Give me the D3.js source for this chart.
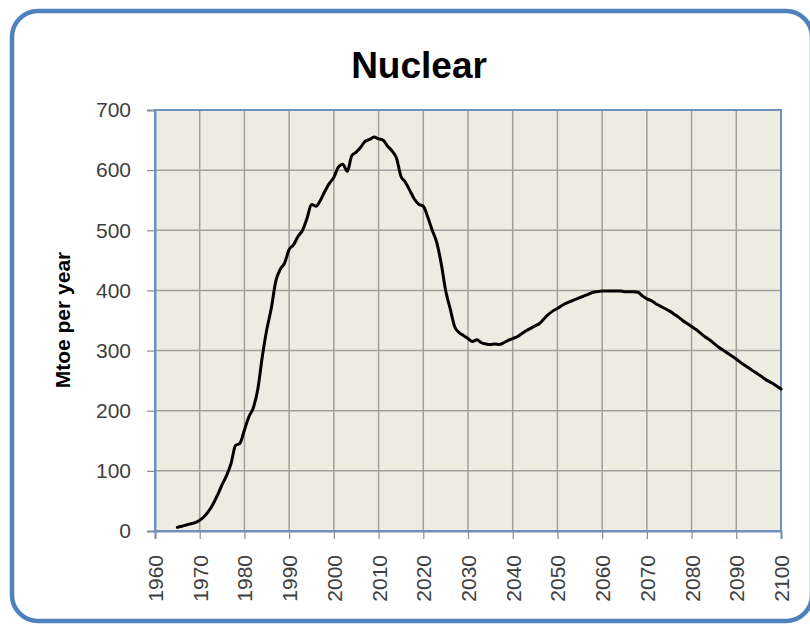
<!DOCTYPE html>
<html>
<head>
<meta charset="utf-8">
<script src="https://cdn.jsdelivr.net/npm/d3@7/dist/d3.min.js"></script>
<style>
  html, body { margin: 0; padding: 0; background: #ffffff; }
  svg { display: block; }
</style>
</head>
<body>
<svg id="chart" width="810" height="625"></svg>
<script>
// ---- data ----
const title = "Nuclear";
const yAxisTitle = "Mtoe per year";
const years = d3.range(1965, 2101);
const nuclear = [
  6, 8, 10, 12, 14, 18, 24, 33, 45, 60,             // 1965-1974
  77, 92, 112, 142, 146, 168, 190, 205, 236, 290,   // 1975-1984
  335, 370, 415, 435, 446, 468, 476, 490, 500, 520, // 1985-1994
  543, 540, 550, 565, 578, 588, 605, 610, 598, 624, // 1995-2004
  630, 638, 648, 651, 655, 652, 650, 640, 632, 620, // 2005-2014
  590, 580, 566, 552, 543, 540, 522, 500, 480, 445, // 2015-2024
  400, 370, 340, 330, 325, 320, 315, 318, 313, 311, // 2025-2034
  310, 311, 310, 313, 317, 320, 323, 328, 333, 337, // 2035-2044
  341, 345, 353, 360, 366, 370, 375, 379, 382, 385, // 2045-2054
  388, 391, 394, 397, 398, 399, 399, 399, 399, 399, // 2055-2064
  398, 398, 398, 397, 391, 386, 383, 378, 374, 370, // 2065-2074
  366, 361, 356, 350, 345, 340, 335, 329, 323, 318, // 2075-2084
  312, 306, 301, 296, 291, 286, 280, 275, 270, 265, // 2085-2094
  260, 255, 250, 246, 241, 236                      // 2095-2100
];
const xTicks = d3.range(1960, 2101, 10);
const yTicks = [0, 100, 200, 300, 400, 500, 600, 700];

// ---- layout ----
const svg = d3.select("#chart");
const margin = { left: 155, right: 29, top: 110, bottom: 94 };
const W = 810, H = 625;
const x = d3.scaleLinear().domain([1960, 2100]).range([margin.left, W - margin.right]);
const y = d3.scaleLinear().domain([0, 700]).range([H - margin.bottom, margin.top]);

// outer rounded frame
svg.append("rect")
  .attr("x", 12).attr("y", 11)
  .attr("width", 800).attr("height", 610)
  .attr("rx", 26).attr("ry", 26)
  .attr("fill", "#ffffff")
  .attr("stroke", "#4f81bd")
  .attr("stroke-width", 4.5);

// title
svg.append("text")
  .attr("x", 419).attr("y", 78)
  .attr("text-anchor", "middle")
  .attr("font-family", "'Liberation Sans', Arial, sans-serif")
  .attr("font-weight", "bold")
  .attr("font-size", 37)
  .attr("fill", "#000")
  .text(title);

// plot background
svg.append("rect")
  .attr("x", x(1960)).attr("y", y(700))
  .attr("width", x(2100) - x(1960)).attr("height", y(0) - y(700))
  .attr("fill", "#eeece1");

// gridlines
const grid = svg.append("g").attr("stroke", "#a0a09c").attr("stroke-width", 1.5);
grid.selectAll(".vg").data(xTicks.slice(1, -1)).enter().append("line")
  .attr("x1", d => x(d)).attr("x2", d => x(d))
  .attr("y1", y(700)).attr("y2", y(0));
grid.selectAll(".hg").data(yTicks.slice(1)).enter().append("line")
  .attr("x1", x(1960)).attr("x2", x(2100))
  .attr("y1", d => y(d)).attr("y2", d => y(d));

// plot border
svg.append("rect")
  .attr("x", x(1960)).attr("y", y(700))
  .attr("width", x(2100) - x(1960)).attr("height", y(0) - y(700))
  .attr("fill", "none")
  .attr("stroke", "#6f8fbf")
  .attr("stroke-width", 2);

// axes
const font = "'Liberation Sans', Arial, sans-serif";
const yAxis = svg.append("g")
  .attr("transform", `translate(${x(1960)},0)`)
  .call(d3.axisLeft(y).tickValues(yTicks).tickSize(8).tickPadding(16).tickFormat(d3.format("d")));
yAxis.select(".domain").attr("stroke", "#6f8fbf").attr("stroke-width", 2);
yAxis.selectAll(".tick line").attr("stroke", "#8c8c8c").attr("stroke-width", 1.2);
yAxis.selectAll(".tick text")
  .attr("font-family", font).attr("font-size", 21).attr("fill", "#404040");

const xAxis = svg.append("g")
  .attr("transform", `translate(0,${y(0)})`)
  .call(d3.axisBottom(x).tickValues(xTicks).tickSize(8).tickFormat(d3.format("d")));
xAxis.select(".domain").attr("stroke", "#6f8fbf").attr("stroke-width", 2);
xAxis.selectAll(".tick line").attr("stroke", "#8c8c8c").attr("stroke-width", 1.2);
xAxis.selectAll(".tick text")
  .attr("font-family", font).attr("font-size", 21).attr("fill", "#404040")
  .attr("transform", "rotate(-90)")
  .attr("text-anchor", "end")
  .attr("x", -24).attr("y", 0).attr("dy", "0.36em");

// y axis title
svg.append("text")
  .attr("transform", "translate(70,320) rotate(-90)")
  .attr("text-anchor", "middle")
  .attr("font-family", font)
  .attr("font-weight", "bold")
  .attr("font-size", 21)
  .attr("fill", "#000")
  .text(yAxisTitle);

// line
const line = d3.line()
  .x((d, i) => x(years[i]))
  .y(d => y(d))
  .curve(d3.curveMonotoneX);
svg.append("path")
  .datum(nuclear)
  .attr("fill", "none")
  .attr("stroke", "#000")
  .attr("stroke-width", 3)
  .attr("stroke-linejoin", "round")
  .attr("stroke-linecap", "round")
  .attr("d", line);
</script>
</body>
</html>
